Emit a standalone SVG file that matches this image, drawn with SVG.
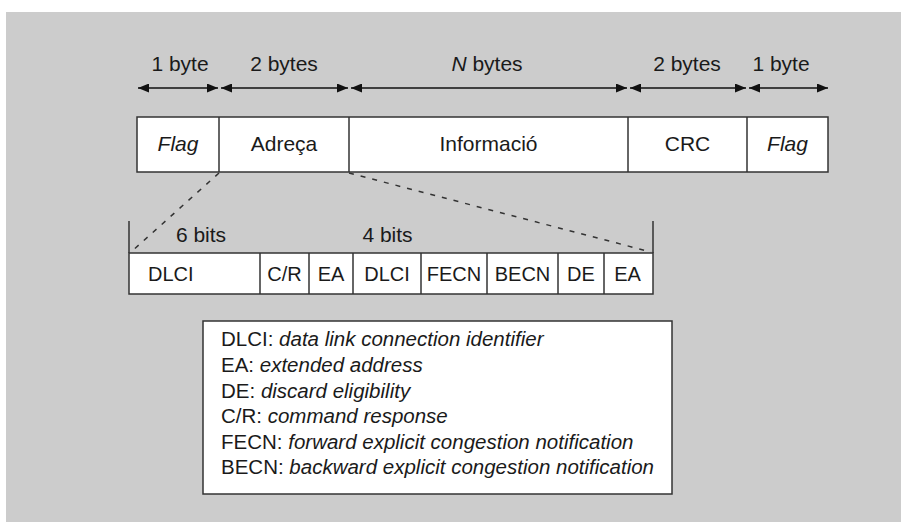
<svg xmlns="http://www.w3.org/2000/svg" width="901" height="522" viewBox="0 0 901 522">
<style>
text{font-family:"Liberation Sans",Arial,sans-serif;font-size:20px;fill:#1a1a1a}
.c{text-anchor:middle}
.i{font-style:italic}
.big{font-size:21px}
.leg{font-size:20.5px}
.box{fill:#ffffff;stroke:#333333;stroke-width:1.5}
.ln{stroke:#333333;stroke-width:1.5;fill:none}
.dim{stroke:#111111;stroke-width:1.5;fill:none}
.dash{stroke:#333333;stroke-width:1.5;fill:none;stroke-dasharray:5 7}
</style>
<defs>
<marker id="ah" viewBox="0 0 11 9" refX="11" refY="4.5" markerWidth="11" markerHeight="9" markerUnits="userSpaceOnUse" orient="auto-start-reverse">
<path d="M0,0 L11,4.5 L0,9 Z" fill="#111111"/>
</marker>
</defs>
<rect x="6" y="12" width="895" height="510" fill="#cccccc"/>

<g id="dimensions">
<line class="dim" x1="138" y1="88" x2="218" y2="88" marker-start="url(#ah)" marker-end="url(#ah)"/>
<line class="dim" x1="221" y1="88" x2="348" y2="88" marker-start="url(#ah)" marker-end="url(#ah)"/>
<line class="dim" x1="351" y1="88" x2="627" y2="88" marker-start="url(#ah)" marker-end="url(#ah)"/>
<line class="dim" x1="630" y1="88" x2="746" y2="88" marker-start="url(#ah)" marker-end="url(#ah)"/>
<line class="dim" x1="749" y1="88" x2="828" y2="88" marker-start="url(#ah)" marker-end="url(#ah)"/>
<text class="c big" x="180" y="71">1 byte</text>
<text class="c big" x="284" y="71">2 bytes</text>
<text class="c big" x="487" y="71"><tspan class="i">N</tspan> bytes</text>
<text class="c big" x="687" y="71">2 bytes</text>
<text class="c big" x="781" y="71">1 byte</text>
</g>

<g id="frame">
<rect class="box" x="137" y="117" width="691" height="55"/>
<line class="ln" x1="219" y1="117" x2="219" y2="172"/>
<line class="ln" x1="349" y1="117" x2="349" y2="172"/>
<line class="ln" x1="628" y1="117" x2="628" y2="172"/>
<line class="ln" x1="747" y1="117" x2="747" y2="172"/>
<text class="c i big" x="178" y="151">Flag</text>
<text class="c big" x="284" y="151">Adreça</text>
<text class="c big" x="488.5" y="151">Informació</text>
<text class="c big" x="687.5" y="151">CRC</text>
<text class="c i big" x="787.5" y="151">Flag</text>
</g>

<g id="connectors">
<line class="dash" x1="219" y1="173" x2="131" y2="252"/>
<line class="dash" x1="349" y1="173" x2="651" y2="252"/>
</g>

<g id="address">
<line class="ln" x1="129" y1="221" x2="129" y2="253"/>
<line class="ln" x1="653" y1="221" x2="653" y2="253"/>
<text class="c big" x="201" y="242">6 bits</text>
<text class="c big" x="387.5" y="242">4 bits</text>
<rect class="box" x="129" y="253" width="524" height="41"/>
<line class="ln" x1="260" y1="253" x2="260" y2="294"/>
<line class="ln" x1="309" y1="253" x2="309" y2="294"/>
<line class="ln" x1="353" y1="253" x2="353" y2="294"/>
<line class="ln" x1="421" y1="253" x2="421" y2="294"/>
<line class="ln" x1="487" y1="253" x2="487" y2="294"/>
<line class="ln" x1="558" y1="253" x2="558" y2="294"/>
<line class="ln" x1="604" y1="253" x2="604" y2="294"/>
<text x="148" y="281">DLCI</text>
<text class="c" x="284.5" y="281">C/R</text>
<text class="c" x="331" y="281">EA</text>
<text class="c" x="387" y="281">DLCI</text>
<text class="c" x="454" y="281">FECN</text>
<text class="c" x="522.5" y="281">BECN</text>
<text class="c" x="581" y="281">DE</text>
<text class="c" x="627.5" y="281">EA</text>
</g>

<g id="legend">
<rect class="box" x="203" y="321" width="469" height="173"/>
<text class="leg" x="221" y="346">DLCI: <tspan class="i">data link connection identifier</tspan></text>
<text class="leg" x="221" y="372">EA: <tspan class="i">extended address</tspan></text>
<text class="leg" x="221" y="397.5">DE: <tspan class="i">discard eligibility</tspan></text>
<text class="leg" x="221" y="423">C/R: <tspan class="i">command response</tspan></text>
<text class="leg" x="221" y="448.5">FECN: <tspan class="i">forward explicit congestion notification</tspan></text>
<text class="leg" x="221" y="474">BECN: <tspan class="i">backward explicit congestion notification</tspan></text>
</g>
</svg>
